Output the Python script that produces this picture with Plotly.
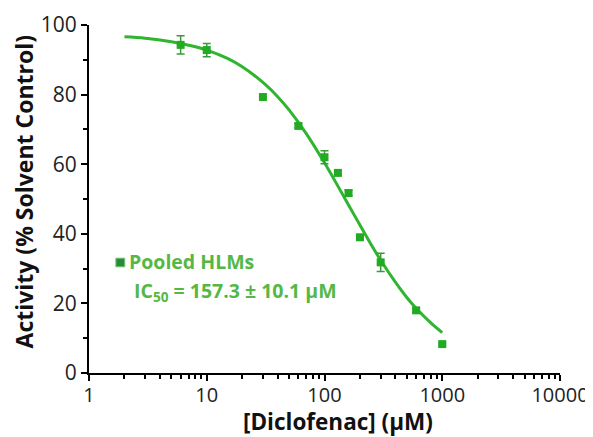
import plotly.graph_objects as go

# measured data (Diclofenac, µM) vs activity (% solvent control)
conc = [6, 10, 30, 60, 100, 130, 160, 200, 300, 600, 1000]
activity = [94.3, 92.8, 79.3, 71.0, 62.0, 57.5, 51.7, 39.0, 31.8, 18.0, 8.3]
err = [2.6, 1.9, 0, 0.6, 1.9, 0.6, 0.8, 0.6, 2.6, 0.6, 0.3]

# fitted curve
curve_x = [2, 3, 5, 7, 10, 15, 20, 30, 40, 50, 70, 100, 130, 160, 200, 250, 300, 400, 500, 600, 800, 1000]
curve_y = [96.6, 96.2, 95.2, 94.2, 92.8, 90.4, 88.0, 83.5, 79.4, 75.6, 68.8, 60.4, 53.7, 48.3, 42.5, 36.8, 32.4, 26.1, 21.7, 18.6, 14.4, 11.6]

x_ticks = [1, 10, 100, 1000, 10000]
x_tick_text = ["1", "10", "100", "1000", "10000"]
x_minor = [2, 3, 4, 5, 6, 7, 8, 9, 20, 30, 40, 50, 60, 70, 80, 90,
           200, 300, 400, 500, 600, 700, 800, 900,
           2000, 3000, 4000, 5000, 6000, 7000, 8000, 9000]
y_ticks = [0, 20, 40, 60, 80, 100]

GREEN = "#2fb52f"
TEXT_GREEN = "#55b845"
FONT = "Open Sans"

fig = go.Figure()
fig.add_trace(go.Scatter(
    x=curve_x, y=curve_y, mode="lines", line=dict(color=GREEN, width=3, shape="spline"),
    showlegend=False, hoverinfo="skip"))
fig.add_trace(go.Scatter(
    x=conc, y=activity, mode="markers",
    marker=dict(symbol="square", size=8, color="#22aa22"),
    error_y=dict(type="data", array=err, visible=True, color="#3a9a3a", thickness=1.5, width=4),
    showlegend=False))

# page has an 8px body margin, so the figure is sized/offset to compensate
fig.update_layout(
    width=585, height=429,
    margin=dict(l=81, r=33, t=17, b=64),
    paper_bgcolor="white", plot_bgcolor="white",
    font=dict(family=FONT, color="#222222"),
    xaxis=dict(
        type="log", range=[0, 4], tickvals=x_ticks, ticktext=x_tick_text, automargin=False,
        showline=True, linecolor="black", linewidth=2, showgrid=False, zeroline=False,
        ticks="outside", ticklen=6, tickwidth=2, tickcolor="black", ticklabelstandoff=-3,
        minor=dict(ticks="outside", ticklen=4, tickwidth=1.5, tickcolor="black",
                   tickvals=x_minor, showgrid=False),
        tickfont=dict(size=20, family=FONT, color="#222222"),
    ),
    yaxis=dict(
        range=[0, 100], tickvals=y_ticks, automargin=False,
        showline=True, linecolor="black", linewidth=2, showgrid=False, zeroline=False,
        ticks="outside", ticklen=6, tickwidth=2, tickcolor="black",
        minor=dict(ticks="outside", ticklen=4, tickwidth=1.5, tickcolor="black", dtick=10, showgrid=False),
        tickfont=dict(size=21, family=FONT, color="#222222"),
    ),
)

fig.add_annotation(xref="paper", yref="paper", x=0.529, y=-0.14, xanchor="center", yanchor="middle",
                   text="<b>[Diclofenac] (μM)</b>", showarrow=False,
                   font=dict(size=22.5, family=FONT, color="#111111"))
fig.add_annotation(xref="paper", yref="paper", x=-0.137, y=0.523, xanchor="center", yanchor="middle",
                   text="<b>Activity (% Solvent Control)</b>", showarrow=False, textangle=-90,
                   font=dict(size=23, family=FONT, color="#111111"))

fig.add_shape(type="rect", xref="paper", yref="paper", x0=0.057, x1=0.076, y0=0.305, y1=0.330,
              fillcolor="#2a8a3a", line=dict(color="#7acc7a", width=1))
fig.add_annotation(xref="paper", yref="paper", x=0.081, y=0.319, xanchor="left", yanchor="middle",
                   text="<b>Pooled HLMs</b>", showarrow=False,
                   font=dict(size=19.5, family=FONT, color=TEXT_GREEN))
fig.add_annotation(xref="paper", yref="paper", x=0.091, y=0.233, xanchor="left", yanchor="middle",
                   text="<b>IC<sub>50</sub> = 157.3 ± 10.1 μM</b>", showarrow=False,
                   font=dict(size=19.5, family=FONT, color=TEXT_GREEN))

fig.write_html("out.html")
